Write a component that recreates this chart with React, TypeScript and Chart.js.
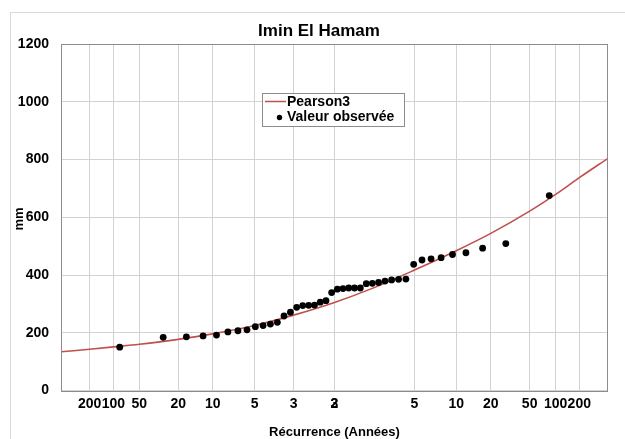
import { useEffect, useRef } from 'react';
import { Chart, registerables } from 'chart.js';

Chart.register(...registerables);

const FONT = '"Liberation Sans", Arial, Helvetica, sans-serif';

const chartTitle = 'Imin El Hamam';
const xAxisTitle = 'Récurrence (Années)';
const yAxisTitle = 'mm';
const curveLabel = 'Pearson3';
const observedLabel = 'Valeur observée';

// Return-period tick labels (dry side, then wet side) and their non-exceedance frequencies
const tickLabels = ['200', '100', '50', '20', '10', '5', '3', '2', '3', '5', '10', '20', '50', '100', '200'];
const tickFreq = [0.005, 0.01, 0.02, 0.05, 0.1, 0.2, 1 / 3, 0.5, 0.5, 0.8, 0.9, 0.95, 0.98, 0.99, 0.995];
const axisFreqRange = [0.002, 0.998];

const yTickValues = [0, 200, 400, 600, 800, 1000, 1200];

// Fitted Pearson III quantiles (mm) at given non-exceedance frequencies
const curveFreq = [0.002, 0.005, 0.01, 0.02, 0.05, 0.1, 0.2, 1 / 3, 0.5, 2 / 3, 0.8, 0.9, 0.95, 0.98, 0.99, 0.995, 0.998];
const curveMm = [134, 143, 151, 160, 177, 196, 225, 261, 305, 358, 417, 484, 544, 621, 679, 737, 804];

// Observed annual values (mm), sorted ascending
const observedMm = [
  150, 184, 186, 189, 192, 203, 207, 210, 221, 225,
  230, 236, 258, 271, 288, 294, 295, 296, 306, 311,
  339, 351, 353, 355, 355, 355, 370, 371, 374, 379,
  383, 385, 386, 437, 452, 456, 460, 471, 477, 493,
  509, 675,
];

const CURVE_COLOR = '#c0504d';
const GRID_COLOR = '#d3d3d3';
const FRAME_COLOR = '#8c8c8c';

// Inverse standard normal CDF (Acklam) – maps frequencies onto the probability axis
function normInv(p: number): number {
  const a = [-3.969683028665376e1, 2.209460984245205e2, -2.759285104469687e2, 1.38357751867269e2, -3.066479806614716e1, 2.506628277459239];
  const b = [-5.447609879822406e1, 1.615858368580409e2, -1.556989798598866e2, 6.680131188771972e1, -1.328068155288572e1];
  const c = [-7.784894002430293e-3, -3.223964580411365e-1, -2.400758277161838, -2.549671629920325, 4.374664141464968, 2.938163982698783];
  const d = [7.784695709041462e-3, 3.224671290700398e-1, 2.445134137142996, 3.754408661907416];
  const pl = 0.02425;
  if (p < pl) {
    const q = Math.sqrt(-2 * Math.log(p));
    return (((((c[0] * q + c[1]) * q + c[2]) * q + c[3]) * q + c[4]) * q + c[5]) / ((((d[0] * q + d[1]) * q + d[2]) * q + d[3]) * q + 1);
  }
  if (p <= 1 - pl) {
    const q = p - 0.5;
    const r = q * q;
    return ((((((a[0] * r + a[1]) * r + a[2]) * r + a[3]) * r + a[4]) * r + a[5]) * q) / (((((b[0] * r + b[1]) * r + b[2]) * r + b[3]) * r + b[4]) * r + 1);
  }
  const q = Math.sqrt(-2 * Math.log(1 - p));
  return -(((((c[0] * q + c[1]) * q + c[2]) * q + c[3]) * q + c[4]) * q + c[5]) / ((((d[0] * q + d[1]) * q + d[2]) * q + d[3]) * q + 1);
}

const decorations = {
  id: 'decorations',
  afterDraw(chart: any) {
    const { ctx, chartArea: a } = chart;
    ctx.save();

    // plot-area frame
    ctx.strokeStyle = FRAME_COLOR;
    ctx.lineWidth = 1;
    ctx.strokeRect(Math.round(a.left) + 0.5, Math.round(a.top) + 0.5, Math.round(a.right - a.left) - 1, Math.round(a.bottom - a.top));

    // chart outline
    ctx.strokeStyle = '#d9d9d9';
    ctx.strokeRect(10.5, 12.5, 640, 460);

    ctx.fillStyle = '#000';
    ctx.textBaseline = 'middle';
    ctx.textAlign = 'center';

    ctx.font = `bold 17px ${FONT}`;
    ctx.fillText(chartTitle, 319, 31);

    ctx.font = `bold 13px ${FONT}`;
    ctx.fillText(xAxisTitle, (a.left + a.right) / 2, 432);

    ctx.save();
    ctx.translate(19, 219);
    ctx.rotate(-Math.PI / 2);
    ctx.fillText(yAxisTitle, 0, 0);
    ctx.restore();

    // legend
    const lx = 262.5;
    const ly = 93.5;
    ctx.fillStyle = '#fff';
    ctx.fillRect(lx, ly, 142, 33);
    ctx.strokeStyle = '#8c8c8c';
    ctx.strokeRect(lx, ly, 142, 33);

    ctx.strokeStyle = CURVE_COLOR;
    ctx.lineWidth = 1.5;
    ctx.beginPath();
    ctx.moveTo(265, 101.5);
    ctx.lineTo(286, 101.5);
    ctx.stroke();

    ctx.fillStyle = '#000';
    ctx.beginPath();
    ctx.arc(279.5, 117.5, 2.7, 0, Math.PI * 2);
    ctx.fill();

    ctx.font = `bold 14px ${FONT}`;
    ctx.textAlign = 'left';
    ctx.fillText(curveLabel, 287, 102);
    ctx.fillText(observedLabel, 287, 117.5);

    ctx.restore();
  },
};

export default function App() {
  const canvasRef = useRef<HTMLCanvasElement | null>(null);

  useEffect(() => {
    if (!canvasRef.current) return;
    const n = observedMm.length;
    const curvePoints = curveFreq.map((f, i) => ({ x: normInv(f), y: curveMm[i] }));
    // Hazen plotting positions for the ranked sample
    const observedPoints = observedMm.map((v, i) => ({ x: normInv((i + 0.5) / n), y: v }));
    const tickU = tickFreq.map((f) => normInv(f));

    const chart = new Chart(canvasRef.current, {
      type: 'scatter',
      data: {
        datasets: [
          {
            label: curveLabel,
            data: curvePoints,
            showLine: true,
            borderColor: CURVE_COLOR,
            backgroundColor: CURVE_COLOR,
            borderWidth: 1.6,
            pointRadius: 0,
            cubicInterpolationMode: 'monotone',
            order: 2,
          },
          {
            label: observedLabel,
            data: observedPoints,
            showLine: false,
            backgroundColor: '#000',
            borderColor: '#000',
            pointRadius: 3.4,
            borderWidth: 0,
            order: 1,
          },
        ],
      },
      options: {
        responsive: false,
        animation: false,
        events: [],
        layout: { padding: { left: 0, right: 17, top: 44, bottom: 0 } },
        plugins: { legend: { display: false }, tooltip: { enabled: false }, title: { display: false } },
        scales: {
          x: {
            type: 'linear',
            min: normInv(axisFreqRange[0]),
            max: normInv(axisFreqRange[1]),
            afterBuildTicks: (scale: any) => {
              scale.ticks = tickU.map((v) => ({ value: v }));
            },
            afterFit: (scale: any) => {
              scale.height = 48.5;
            },
            grid: {
              drawTicks: false,
              color: (ctx: any) => (ctx.index === 8 ? 'rgba(0,0,0,0)' : GRID_COLOR),
              lineWidth: 1,
            },
            border: { display: false },
            ticks: {
              autoSkip: false,
              maxRotation: 0,
              minRotation: 0,
              padding: 5,
              color: '#000',
              font: { family: FONT, size: 14, weight: 'bold' },
              callback: (_v: any, i: number) => tickLabels[i],
            },
          },
          y: {
            type: 'linear',
            min: yTickValues[0],
            max: yTickValues[yTickValues.length - 1],
            afterBuildTicks: (scale: any) => {
              scale.ticks = yTickValues.map((v) => ({ value: v }));
            },
            afterFit: (scale: any) => {
              scale.width = 61;
            },
            grid: { drawTicks: false, color: GRID_COLOR, lineWidth: 1 },
            border: { display: false },
            ticks: {
              padding: 12,
              color: '#000',
              font: { family: FONT, size: 14, weight: 'bold' },
              callback: (v: any) => String(v),
            },
          },
        },
      },
      plugins: [decorations],
    } as any);

    return () => chart.destroy();
  }, []);

  return (
    <div style={{ position: 'absolute', left: 0, top: 0, width: 625, height: 439, background: '#fff' }}>
      <canvas ref={canvasRef} width={625} height={439} style={{ display: 'block' }} />
    </div>
  );
}
